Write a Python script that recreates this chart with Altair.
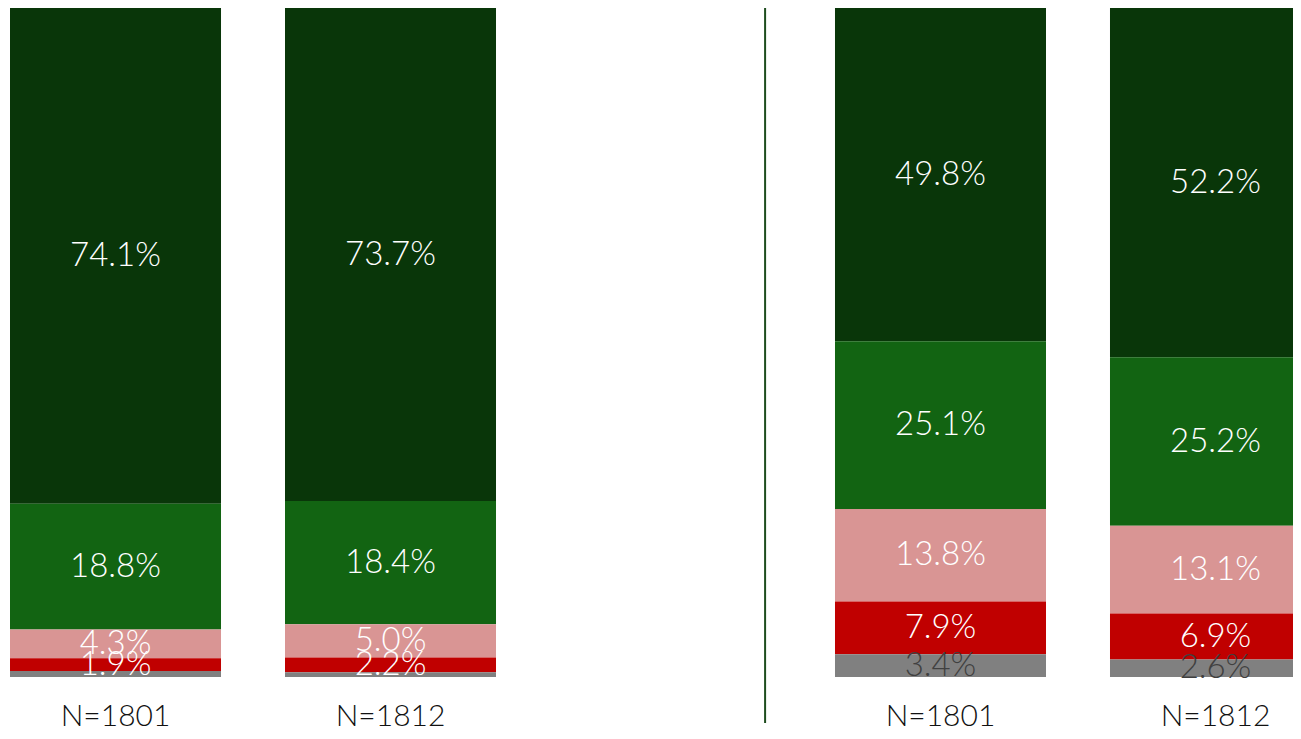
import altair as alt
import pandas as pd

# ---- data ----
slots = ["L:N=1801", "L:N=1812", "gap", "R:N=1801", "R:N=1812"]
categories = ["Very", "Somewhat", "Slightly", "Not", "Unknown"]  # top -> bottom
left_1801 = [74.1, 18.8, 4.3, 1.9, 0.9]
left_1812 = [73.7, 18.4, 5.0, 2.2, 0.7]
right_1801 = [49.8, 25.1, 13.8, 7.9, 3.4]
right_1812 = [52.2, 25.2, 13.1, 6.9, 2.6]

colors = ["#093609", "#126412", "#d99594", "#c00000", "#808080"]

series = {
    "L:N=1801": left_1801,
    "L:N=1812": left_1812,
    "R:N=1801": right_1801,
    "R:N=1812": right_1812,
}
rows = []
for slot, vals in series.items():
    for i, (c, v) in enumerate(zip(categories, vals)):
        rows.append({"slot": slot, "cat": c, "value": v, "ord": len(categories) - i})
df = pd.DataFrame(rows)

FONT = "Lato"

xscale = alt.Scale(domain=slots, range=[0, 1315], paddingInner=0.2327, paddingOuter=0.0073)
yscale = alt.Scale(domain=[0, 100])

base = alt.Chart(df).transform_stack(
    stack="value", as_=["v0", "v1"], groupby=["slot"],
    sort=[alt.SortField("ord", order="ascending")]
).transform_calculate(
    mid="(datum.v0 + datum.v1) / 2",
    label="format(datum.value, '.1f') + '%'"
)

x = alt.X("slot:N", scale=xscale, title=None,
          axis=alt.Axis(domain=False, ticks=False, tickSize=0, labelAngle=0,
                        labelAlign="center", labelFlush=False,
                        labelFont=FONT, labelFontSize=30, labelFontWeight=300,
                        labelColor="#111111", labelBaseline="bottom",
                        labelPadding=54, grid=False,
                        labelExpr="indexof(datum.label, ':') >= 0 ? split(datum.label, ':')[1] : ''"))

bars = base.mark_bar().encode(
    x=x,
    y=alt.Y("v0:Q", scale=yscale, axis=None),
    y2="v1:Q",
    color=alt.Color("cat:N", scale=alt.Scale(domain=categories, range=colors), legend=None),
)

text = base.transform_filter("datum.value >= 1").mark_text(
    font=FONT, fontSize=33, fontWeight=300, baseline="middle", align="center"
).encode(
    x=alt.X("slot:N", scale=xscale),
    y=alt.Y("mid:Q", scale=yscale),
    text="label:N",
    color=alt.condition("datum.cat == 'Unknown'", alt.value("#404040"), alt.value("white")),
)

rule = alt.Chart(pd.DataFrame({"slot": ["gap"]})).mark_rule(
    color="#1e4d1e", strokeWidth=2
).encode(
    x=alt.X("slot:N", scale=xscale, bandPosition=0.972),
    y=alt.value(0),
    y2=alt.value(715),
)

chart = alt.layer(rule, bars, text).properties(
    width=1285, height=669,
    autosize=alt.AutoSizeParams(type="none"),
    padding={"left": 0, "top": 0, "right": 0, "bottom": 54},
    background="white",
).configure_view(stroke=None)

chart.save("out.html", embed_options={"renderer": "svg", "actions": False})
